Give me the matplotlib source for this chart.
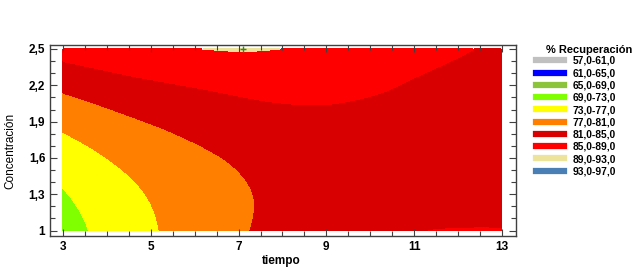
import matplotlib
matplotlib.use("Agg")
import matplotlib.pyplot as plt
import matplotlib.tri as mtri
from matplotlib.lines import Line2D
from matplotlib.ticker import MultipleLocator
import numpy as np

plt.rcParams['font.family'] = ['Liberation Sans', 'DejaVu Sans']

# grid (tiempo x concentracion -> % recuperacion)
tiempo = [3, 4, 5, 6, 7, 8, 9, 10, 11, 12, 13]
concentracion = [1.0, 1.25, 1.5, 1.75, 2.0, 2.25, 2.5]
recuperacion = [
    [71.37, 74.12, 76.57, 78.72, 80.57, 82.12, 83.37, 84.32, 84.90, 85.10, 85.12],
    [72.44, 74.91, 77.08, 78.94, 80.51, 81.78, 82.74, 83.41, 83.78, 83.84, 83.61],
    [74.11, 76.29, 78.18, 79.76, 81.04, 82.03, 82.71, 83.09, 83.18, 82.96, 82.44],
    [76.37, 78.27, 79.87, 81.17, 82.17, 82.87, 83.27, 83.37, 83.17, 82.67, 81.87],
    [79.22, 80.84, 82.16, 83.17, 84.05, 84.60, 84.72, 84.45, 84.05, 83.10, 81.89],
    [82.67, 84.00, 85.04, 85.77, 86.30, 86.60, 86.45, 85.80, 84.94, 83.87, 82.51],
    [86.71, 87.76, 88.51, 88.93, 89.25, 88.98, 88.51, 87.76, 86.71, 85.60, 83.71],
]
# optimum marker
opt_t, opt_c = 7.1, 2.5

niveles = [57, 61, 65, 69, 73, 77, 81, 85, 89, 93, 97]
etiquetas = ['57,0-61,0', '61,0-65,0', '65,0-69,0', '69,0-73,0', '73,0-77,0',
             '77,0-81,0', '81,0-85,0', '85,0-89,0', '89,0-93,0', '93,0-97,0']
colores = ['#c0c0c0', '#0000ff', '#8cc43c', '#80ff00', '#ffff00',
           '#ff8000', '#d80000', '#ff0000', '#ede39a', '#4a7fb5']

xticks = [3, 5, 7, 9, 11, 13]
yticks = [1.0, 1.3, 1.6, 1.9, 2.2, 2.5]
ylabels = ['1', '1,3', '1,6', '1,9', '2,2', '2,5']

fig = plt.figure(figsize=(6.38, 2.72), dpi=100)
ax = fig.add_axes([50/638, 1-236/272, 466/638, 191/272])

T, C = np.meshgrid(tiempo, concentracion)
triang = mtri.Triangulation(T.ravel(), C.ravel())
refiner = mtri.UniformTriRefiner(triang)
tri_fino, z_fino = refiner.refine_field(np.array(recuperacion).ravel(), subdiv=4)
ax.tricontourf(tri_fino, z_fino, levels=niveles, colors=colores)
ax.plot(opt_t, opt_c, marker='+', color='#2e8b2e', ms=4, mew=1)

ax.set_xlim(2.704, 13.32)
ax.set_ylim(0.955, 2.533)
ax.set_xticks(xticks)
ax.set_xticklabels([str(t) for t in xticks])
ax.set_yticks(yticks)
ax.set_yticklabels(ylabels)
ax.xaxis.set_minor_locator(MultipleLocator(0.5))
ax.yaxis.set_minor_locator(MultipleLocator(0.1))
ax.tick_params(which='both', direction='in', top=True, right=True,
               color='#404040', width=0.8, labelsize=8.5)
ax.tick_params(which='major', length=5)
ax.tick_params(which='minor', length=3.5)
for lab in ax.get_xticklabels() + ax.get_yticklabels():
    lab.set_fontweight('bold')
for s in ax.spines.values():
    s.set_color('#404040')
    s.set_linewidth(1)

ax.set_xlabel('tiempo', fontsize=8.5, fontweight='bold')
ax.xaxis.set_label_coords(0.496, -0.102)
ax.set_ylabel('Concentración', fontsize=8.5)
ax.yaxis.set_label_coords(-0.073, 0.445)

handles = [Line2D([0], [0], color=c, lw=4.5) for c in colores]
leg = fig.legend(handles, etiquetas, loc='upper left', bbox_to_anchor=(536/638, 1-56/272),
                 frameon=False, fontsize=7.4, handlelength=2.7, handletextpad=0.85,
                 labelspacing=0.22, borderpad=0, borderaxespad=0)
for t in leg.get_texts():
    t.set_fontweight('bold')
fig.text(589/638, 1-50/272, '% Recuperación', fontsize=8, fontweight='bold',
         ha='center', va='center')

fig.savefig('out.png', dpi=100)
